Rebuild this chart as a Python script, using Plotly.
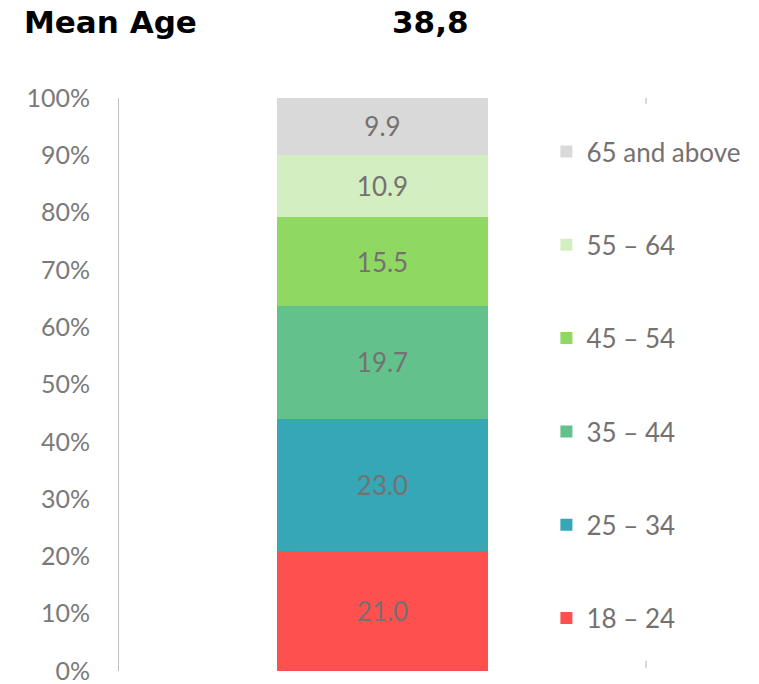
import plotly.graph_objects as go

categories = ["Age"]
groups = ["18 – 24", "25 – 34", "35 – 44", "45 – 54", "55 – 64", "65 and above"]
shares = [21.0, 23.0, 19.7, 15.5, 10.9, 9.9]
colors = ["#FF5050", "#35A7B6", "#63C28B", "#8FD862", "#D3EFC1", "#D9D9D9"]
tick_vals = [0, 10, 20, 30, 40, 50, 60, 70, 80, 90, 100]
tick_text = [f"{v}%" for v in tick_vals]
mean_age_label = "Mean Age"
mean_age_value = "38,8"

fig = go.Figure()
for i, (g, v, c) in enumerate(zip(groups, shares, colors)):
    fig.add_trace(go.Bar(
        x=categories, y=[v], name=g, marker=dict(color=c, line=dict(width=0)),
        text=[f"{v:.1f}"], textposition="inside", insidetextanchor="middle",
        textfont=dict(family="Lato", size=26, color="#767171"),
        width=0.4, legendgroup=f"g{i}", legendrank=len(groups) - i,
        hoverinfo="name+y",
    ))

fig.update_layout(
    width=759, height=684,
    barmode="stack",
    plot_bgcolor="white", paper_bgcolor="white",
    margin=dict(l=119, r=113, t=98, b=13, autoexpand=False),
    xaxis=dict(visible=False, range=[-0.5, 0.5]),
    yaxis=dict(range=[0, 100], tickvals=tick_vals, ticktext=tick_text,
               showgrid=False, zeroline=False, showline=True, linecolor="#BFBFBF",
               linewidth=1, ticks="", ticklabelstandoff=23, ticklabeloverflow="allow",
               automargin=False,
               tickfont=dict(family="Lato", size=25, color="#7A7A7A")),
    legend=dict(x=0.811, y=0.9475, xanchor="left", yanchor="top",
                traceorder="grouped", tracegroupgap=56.5,
                font=dict(family="Lato", size=26, color="#767171"),
                bgcolor="rgba(0,0,0,0)"),
    uniformtext=dict(mode="show", minsize=10),
)

fig.add_annotation(text=f"<b>{mean_age_label}</b>", xref="paper", yref="paper",
                   x=-0.185, y=1.0, yshift=76, xanchor="left", yanchor="middle", showarrow=False,
                   font=dict(family="DejaVu Sans", size=31, color="black"))
fig.add_annotation(text=f"<b>{mean_age_value}</b>", xref="paper", yref="paper",
                   x=0.592, y=1.0, yshift=76, xanchor="center", yanchor="middle", showarrow=False,
                   font=dict(family="DejaVu Sans", size=31, color="black"))

for y0, y1 in [(0.99, 1.0), (0.005, 0.018)]:
    fig.add_shape(type="line", xref="paper", yref="paper", x0=1, x1=1, y0=y0, y1=y1,
                  line=dict(color="#D9D9D9", width=2))

fig.write_html("out.html", config={"displayModeBar": False},
               post_script="document.body.style.margin='0';")
